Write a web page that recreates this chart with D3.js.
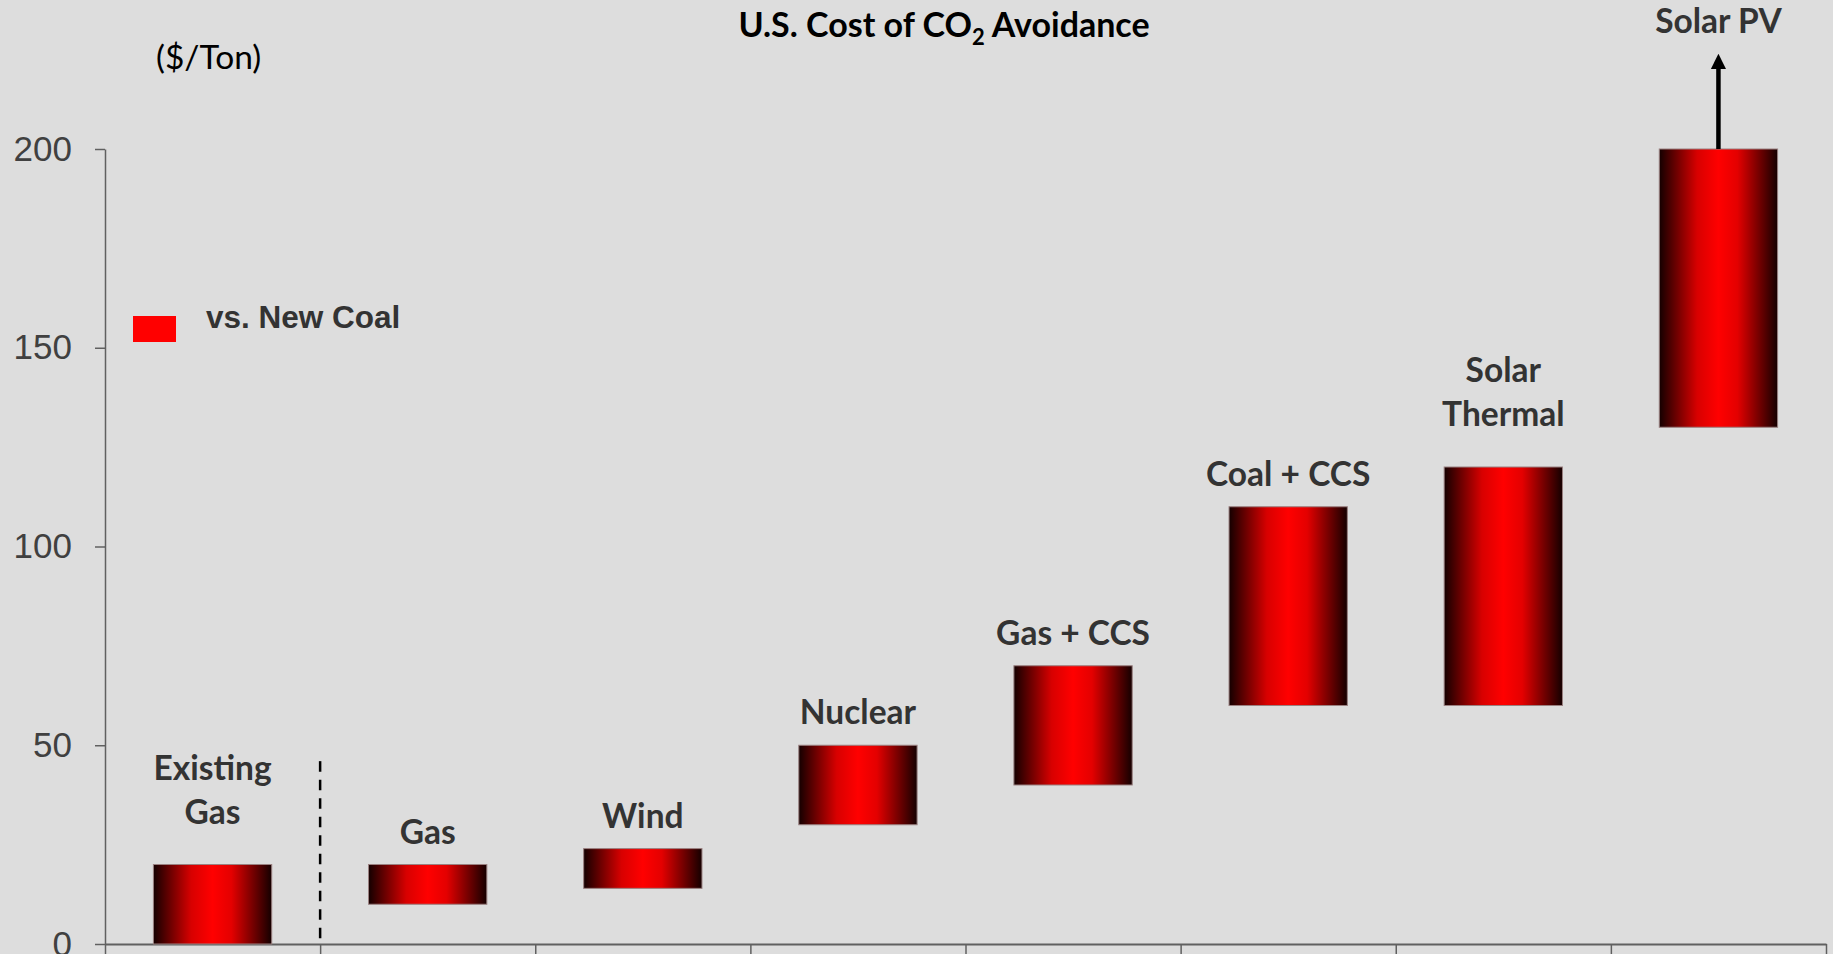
<!DOCTYPE html>
<html>
<head>
<meta charset="utf-8">
<script src="https://cdn.jsdelivr.net/npm/d3@7/dist/d3.min.js"></script>
<style>
  html, body { margin: 0; padding: 0; background: #dddddd; }
  svg { display: block; }
</style>
</head>
<body>
<svg id="chart" width="1833" height="954"></svg>
<script>
// Cost of CO2 avoidance ranges ($/ton) for each generation option vs. new coal
const categories = ["Existing Gas", "Gas", "Wind", "Nuclear", "Gas + CCS", "Coal + CCS", "Solar Thermal", "Solar PV"];
const labelLines = [["Existing", "Gas"], ["Gas"], ["Wind"], ["Nuclear"], ["Gas + CCS"], ["Coal + CCS"], ["Solar", "Thermal"], ["Solar PV"]];
const lowValues  = [0, 10, 14, 30, 40, 60, 60, 130];
const highValues = [20, 20, 24, 50, 70, 110, 120, 200];
const openEnded  = [false, false, false, false, false, false, false, true];
const yTicks = [0, 50, 100, 150, 200];
const seriesName = "vs. New Coal";

const svg = d3.select("#chart");
const W = 1833, H = 954;
const plot = { left: 105, right: 1826, top: 149, bottom: 944 };

svg.append("rect").attr("width", W).attr("height", H).attr("fill", "#dddddd");

// Horizontal cylinder-style shading for the bars
const defs = svg.append("defs");
const grad = defs.append("linearGradient").attr("id", "barShade")
  .attr("x1", "0").attr("x2", "1").attr("y1", "0").attr("y2", "0");
[[0, "#140000"], [0.14, "#6a0000"], [0.32, "#d80000"], [0.5, "#ff0000"],
 [0.66, "#e40000"], [0.86, "#6a0000"], [1, "#140000"]]
  .forEach(([o, c]) => grad.append("stop").attr("offset", o).attr("stop-color", c));

const x = d3.scaleBand().domain(categories).range([plot.left, plot.right])
  .paddingInner(0.45).paddingOuter(0.225);
const y = d3.scaleLinear().domain([0, 200]).range([plot.bottom, plot.top]);
const edges = d3.scaleLinear().domain([0, categories.length]).range([plot.left, plot.right]);

// Y axis
const yAxis = svg.append("g").attr("transform", `translate(${plot.left},0)`)
  .call(d3.axisLeft(y).tickValues(yTicks).tickSize(10).tickSizeOuter(0).tickPadding(23));
yAxis.select(".domain").attr("stroke", "#606060").attr("stroke-width", 1.5);
yAxis.selectAll(".tick line").attr("stroke", "#606060").attr("stroke-width", 1.5);
yAxis.selectAll(".tick text")
  .attr("font-family", "'Liberation Sans', Arial, sans-serif")
  .attr("font-size", 35).attr("fill", "#404040");

// X axis with ticks on category boundaries
const xAxis = svg.append("g").attr("transform", `translate(0,${plot.bottom})`)
  .call(d3.axisBottom(edges).tickValues(d3.range(categories.length + 1))
    .tickFormat("").tickSize(10).tickSizeOuter(0));
xAxis.select(".domain").attr("stroke", "#606060").attr("stroke-width", 2);
xAxis.selectAll(".tick line").attr("stroke", "#606060").attr("stroke-width", 1.5);

// Divider between existing and new capacity
svg.append("line")
  .attr("x1", edges(1)).attr("x2", edges(1))
  .attr("y1", y(46)).attr("y2", y(1))
  .attr("stroke", "#000").attr("stroke-width", 2.5)
  .attr("stroke-dasharray", "10.5,8");

// Floating range bars
const rows = categories.map((c, i) => ({
  cat: c, lines: labelLines[i], low: lowValues[i], high: highValues[i], open: openEnded[i]
}));

svg.append("g").selectAll("rect").data(rows).join("rect")
  .attr("x", d => x(d.cat))
  .attr("y", d => y(d.high))
  .attr("width", x.bandwidth())
  .attr("height", d => y(d.low) - y(d.high))
  .attr("fill", "url(#barShade)")
  .attr("stroke", "#9a8080").attr("stroke-width", 1);

// Upward arrow for open-ended range
const arrowLen = 95;
defs.append("marker").attr("id", "arrowHead")
  .attr("viewBox", "0 0 10 10").attr("refX", 2).attr("refY", 5)
  .attr("markerWidth", 3.4).attr("markerHeight", 3.4).attr("orient", "auto")
  .append("path").attr("d", "M0,0 L10,5 L0,10 Z").attr("fill", "#000");

svg.append("g").selectAll("line").data(rows.filter(d => d.open)).join("line")
  .attr("x1", d => x(d.cat) + x.bandwidth() / 2)
  .attr("x2", d => x(d.cat) + x.bandwidth() / 2)
  .attr("y1", d => y(d.high))
  .attr("y2", d => y(d.high) - arrowLen + 12)
  .attr("stroke", "#000").attr("stroke-width", 4.5)
  .attr("marker-end", "url(#arrowHead)");

// Category labels above each bar (wrapped labels sit a little higher)
const lineH = 44;
const labelFont = "Lato, 'Open Sans', sans-serif";
const labels = svg.append("g").selectAll("text").data(rows).join("text")
  .attr("text-anchor", "middle")
  .attr("font-family", labelFont).attr("font-weight", 700)
  .attr("font-size", 33.5).attr("fill", "#333333")
  .attr("x", d => x(d.cat) + x.bandwidth() / 2)
  .attr("y", d => {
    const top = y(d.high) - (d.open ? arrowLen : 0);
    const extra = d.lines.length - 1;
    return top - 21 - extra * 20 - extra * lineH;
  });
labels.selectAll("tspan").data(d => d.lines.map(t => ({ t, xc: x(d.cat) + x.bandwidth() / 2 })))
  .join("tspan")
  .attr("x", d => d.xc)
  .attr("dy", (d, i) => i === 0 ? 0 : lineH)
  .text(d => d.t);

// Title
const title = svg.append("text")
  .attr("x", 944).attr("y", 37)
  .attr("text-anchor", "middle")
  .attr("font-family", labelFont).attr("font-weight", 700)
  .attr("font-size", 34).attr("fill", "#000");
title.append("tspan").text("U.S. Cost of CO");
title.append("tspan").attr("dy", 8).attr("font-size", 22).text("2");
title.append("tspan").attr("dy", -8).text(" Avoidance");

// Unit label
svg.append("text")
  .attr("x", 156).attr("y", 69)
  .attr("font-family", labelFont).attr("font-size", 33.5).attr("fill", "#000")
  .text("($/Ton)");

// Legend
svg.append("rect").attr("x", 133).attr("y", 316).attr("width", 43).attr("height", 26)
  .attr("fill", "#ff0000");
svg.append("text").attr("x", 206).attr("y", 328)
  .attr("font-family", "'Liberation Sans', Arial, sans-serif")
  .attr("font-weight", 700).attr("font-size", 31.5).attr("fill", "#333333")
  .text(seriesName);
</script>
</body>
</html>
